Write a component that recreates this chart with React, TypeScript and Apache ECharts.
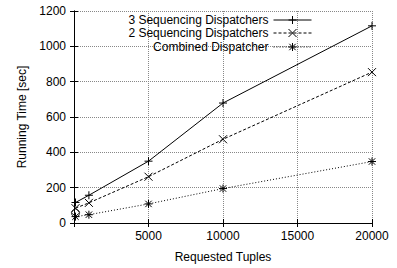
import React, { useEffect, useRef } from "react";
import * as echarts from "echarts";

const tuples = [100, 1000, 5000, 10000, 20000];
const seq3 = [116, 157, 350, 679, 1116];
const seq2 = [84, 114, 262, 474, 854];
const combined = [36, 47, 108, 195, 348];
const extraPoint = [[100, 56]];
const seriesNames = ["3 Sequencing Dispatchers", "2 Sequencing Dispatchers", "Combined Dispatcher"];
const xTicks = [5000, 10000, 15000, 20000];

const PLUS = "path://M0,5L10,5M5,0L5,10";
const CROSS = "path://M0,0L10,10M10,0L0,10";
const STAR = "path://M0,5L10,5M5,0L5,10M1,1L9,9M9,1L1,9";

export default function App() {
  const ref = useRef<HTMLDivElement>(null);
  useEffect(() => {
    document.body.style.margin = "0";
    const chart = echarts.init(ref.current!, null, { renderer: "svg" });
    const font = "Liberation Sans, Arial, Helvetica, sans-serif";
    const fs = 12;
    const gridStyle = { show: true, lineStyle: { color: "#888", type: "dotted", width: 1 } };
    const mk = (name: string, data: number[], symbol: string, dash: any) => ({
      name,
      type: "line",
      data: tuples.map((x, i) => [x, data[i]]),
      symbol,
      symbolSize: 8,
      showSymbol: true,
      color: "#000",
      lineStyle: { color: "#000", width: 1, type: dash },
      itemStyle: { color: "transparent", borderColor: "#000", borderWidth: 1 },
      emphasis: { disabled: true },
      z: 3,
    });
    const legendBase = {
      orient: "vertical",
      right: 85,
      align: "right",
      itemWidth: 38,
      itemHeight: 10,
      itemGap: 2,
      textStyle: { fontFamily: font, fontSize: fs, color: "#000" },
      itemStyle: { color: "transparent", borderColor: "#000", borderWidth: 1 },
      lineStyle: { width: 1 },
      selectedMode: false,
      padding: 0,
    };
    const frameAxis = {
      axisLine: { show: true, lineStyle: { color: "#000", width: 1 } },
      axisTick: { show: true, inside: true, length: 4, lineStyle: { color: "#000" } },
      axisLabel: { show: false },
      splitLine: { show: false },
    };
    chart.setOption({
      animation: false,
      textStyle: { fontFamily: font },
      grid: { left: 74, right: 25, top: 11, bottom: 42 },
      legend: [
        { ...legendBase, top: 14, data: [seriesNames[0]] },
        { ...legendBase, top: 27, data: [seriesNames[1]] },
        { ...legendBase, top: 41, data: [seriesNames[2]] },
      ],
      xAxis: [
        {
          type: "value",
          min: 0,
          max: 20000,
          interval: 5000,
          name: "Requested Tuples",
          nameLocation: "middle",
          nameGap: 28,
          nameTextStyle: { fontFamily: font, fontSize: fs, color: "#000" },
          axisLine: { show: true, lineStyle: { color: "#000" } },
          axisTick: { show: true, inside: true, length: 4, lineStyle: { color: "#000" } },
          axisLabel: {
            fontFamily: font,
            fontSize: fs,
            color: "#000",
            margin: 7,
            formatter: (v: number) => (xTicks.includes(v) ? String(v) : ""),
          },
          splitLine: gridStyle,
        },
        { type: "value", position: "top", min: 0, max: 20000, interval: 5000, ...frameAxis },
      ],
      yAxis: [
        {
          type: "value",
          min: 0,
          max: 1200,
          interval: 200,
          name: "Running Time [sec]",
          nameLocation: "middle",
          nameGap: 46,
          nameRotate: 90,
          nameTextStyle: { fontFamily: font, fontSize: fs, color: "#000" },
          axisLine: { show: true, lineStyle: { color: "#000" } },
          axisTick: { show: true, inside: true, length: 4, lineStyle: { color: "#000" } },
          axisLabel: { fontFamily: font, fontSize: fs, color: "#000", margin: 8, formatter: (v: number) => String(v) },
          splitLine: gridStyle,
        },
        { type: "value", position: "right", min: 0, max: 1200, interval: 200, ...frameAxis },
      ],
      series: [
        mk(seriesNames[0], seq3, PLUS, "solid"),
        mk(seriesNames[1], seq2, CROSS, [3, 2]),
        mk(seriesNames[2], combined, STAR, [1, 2]),
        {
          name: "extra",
          type: "scatter",
          data: extraPoint,
          symbol: "circle",
          symbolSize: 8,
          itemStyle: { color: "transparent", borderColor: "#000", borderWidth: 1 },
          emphasis: { disabled: true },
          z: 3,
        },
      ],
    });
    return () => chart.dispose();
  }, []);
  return <div ref={ref} style={{ width: 397, height: 268 }} />;
}
